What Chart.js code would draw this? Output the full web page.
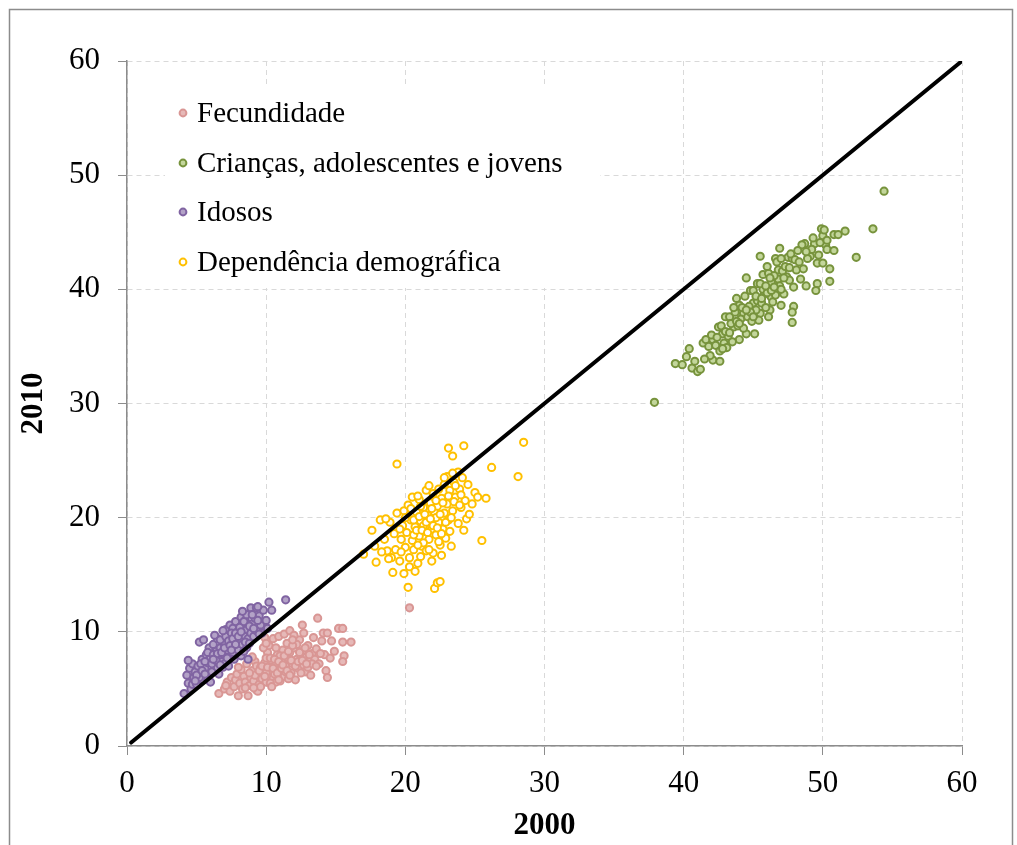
<!DOCTYPE html>
<html>
<head>
<meta charset="utf-8">
<script src="https://cdn.jsdelivr.net/npm/chart.js@4.4.0/dist/chart.umd.min.js"></script>
<style>
    html, body { margin: 0; padding: 0; background: #fff; }
    #wrap { width: 1017px; height: 845px; position: relative; }
</style>
</head>
<body>
<div id="wrap"><canvas id="chart" width="1017" height="845"></canvas></div>
<script>
// Axis ticks
const axisTicks = [0, 10, 20, 30, 40, 50, 60];

// Legend labels
const seriesNames = ['Fecundidade', 'Crianças, adolescentes e jovens', 'Idosos', 'Dependência demográfica'];

// [2000, 2010] pairs
const fecundidade = [
    [6.6,4.6],[7.0,5.0],[7.2,5.6],[7.4,4.8],[7.5,6.0],[7.1,5.3],
    [7.7,5.2],[7.8,5.8],[7.9,6.3],[8.0,4.4],[8.1,5.5],[8.2,6.7],[8.3,5.0],[8.4,6.1],[8.5,5.6],[8.0,6.9],[8.6,7.2],
    [8.7,4.4],[8.8,5.3],[8.9,6.0],[9.0,6.6],[9.1,5.7],[9.2,7.4],[9.3,4.9],[9.4,6.3],[9.5,5.4],[9.0,7.8],[9.3,7.0],[9.4,4.8],[9.6,6.9],
    [9.7,5.9],[9.8,6.5],[9.9,7.3],[10.0,5.6],[10.1,8.2],[10.2,6.1],[10.3,7.0],[10.4,6.6],[10.5,5.9],[10.0,7.7],[10.2,8.8],[10.4,7.5],[9.8,8.6],[10.5,9.4],[9.9,9.5],[10.0,9.0],
    [10.6,6.3],[10.7,7.1],[10.8,8.0],[10.9,6.7],[11.0,5.7],[11.1,7.5],[11.2,8.4],[11.3,6.1],[11.4,7.0],[11.5,9.0],[10.9,9.6],[11.3,9.8],[11.0,7.9],[11.4,6.5],[10.7,5.6],
    [11.6,7.7],[11.7,8.2],[11.8,6.4],[11.9,7.2],[12.0,8.6],[12.1,5.8],[12.2,7.6],[12.3,6.8],[12.4,9.3],[11.7,10.1],[12.0,9.7],[12.5,7.9],[11.6,5.9],[12.2,8.9],
    [12.6,8.3],[12.7,7.1],[12.8,6.5],[12.9,7.8],[13.0,8.8],[13.1,7.4],[13.2,6.2],[13.3,8.1],[13.4,9.5],[12.6,10.6],[12.7,9.9],[13.0,6.9],[13.5,7.6],
    [13.6,8.5],[13.7,11.2],[13.8,7.2],[14.0,9.2],[14.1,9.9],[14.3,6.6],[14.4,9.9],[14.4,6.0],[14.2,8.0],[14.7,9.2],[14.9,8.3],
    [15.2,10.3],[15.5,10.3],[15.5,9.1],[15.6,7.9],[15.5,7.4],[16.1,9.1],[14.6,7.7],[13.9,8.1],
    [9.2,6.2],[9.5,6.6],[9.7,7.0],[10.0,6.4],[10.1,6.9],[10.3,7.7],[10.5,6.8],[10.6,7.6],[10.8,6.4],[10.9,7.4],
    [11.1,6.8],[11.2,7.1],[11.3,7.9],[11.5,6.6],[11.6,8.3],[11.8,7.5],[11.9,8.8],[12.1,7.0],[12.3,7.4],[12.4,8.2],
    [12.6,7.5],[12.8,8.6],[13.1,8.0],[13.3,7.2],[9.6,5.2],[10.3,5.5],[10.9,5.8],[11.7,6.2],[12.5,6.4],[8.8,6.4],
    [9.1,5.1],[8.5,5.1],[10.7,8.6],[11.9,9.3],[13.6,7.0],[12.9,7.2],[10.4,5.2],[9.9,6.1],
    [20.3,12.1]
];

const criancas = [
    [37.9,30.1],[39.4,33.5],[39.9,33.4],[40.2,34.1],[40.4,34.8],[40.6,33.1],[40.8,33.7],[41.0,32.8],[41.2,33.0],
    [41.4,35.3],[41.6,35.6],[41.8,35.0],[42.1,35.6],[42.1,33.8],[42.6,33.7],[42.5,36.7],[42.7,36.8],[43.0,37.6],
    [42.8,36.1],[43.2,35.9],[43.3,37.6],[43.6,36.7],[43.8,39.2],[44.0,38.6],[44.0,35.6],[44.3,37.9],[44.5,41.0],
    [44.8,39.9],[44.5,36.1],[45.0,38.8],[45.1,36.1],[45.3,40.5],[45.5,42.9],[45.5,37.9],[45.7,41.3],[45.8,39.6],
    [46.1,41.4],[46.2,38.2],[46.3,39.3],[46.6,42.7],[46.7,42.4],[46.8,41.7],[46.9,43.6],[46.8,40.9],[46.7,39.9],
    [47.0,38.6],[47.5,42.8],[47.8,42.7],[47.4,41.1],[47.9,40.2],[47.9,38.5],[47.8,38.0],[47.8,37.1],[48.1,41.7],
    [48.6,41.8],[48.7,44.0],[48.5,43.9],[48.8,40.3],[49.1,42.9],[49.4,44.0],[49.6,42.3],[49.6,40.5],[49.5,39.9],
    [49.9,45.3],[50.0,44.7],[50.1,45.2],[50.2,43.9],[50.3,43.5],[50.0,42.3],[50.5,41.8],[50.5,40.7],[50.8,44.8],
    [51.1,44.8],[50.8,43.4],[51.6,45.1],[52.4,42.8],[53.6,45.3],[54.4,48.6],
    [43.0,36.3],[43.4,37.0],[43.7,38.0],[43.9,36.8],[44.1,37.4],[44.2,38.4],[44.4,39.4],[44.6,37.6],[44.7,38.5],
    [44.9,37.2],[45.0,39.9],[45.2,38.2],[45.3,39.0],[45.4,37.3],[45.6,38.8],[45.7,40.0],[45.9,38.4],[46.0,39.7],
    [46.1,37.6],[46.3,40.6],[46.4,38.9],[46.5,41.2],[46.6,39.5],[46.9,40.3],[47.1,41.6],[47.2,39.6],[47.3,42.0],
    [47.6,40.8],[47.7,43.1],[48.0,42.6],[48.2,43.4],[48.4,40.9],[48.9,42.7],[49.2,43.5],[49.8,44.1],[42.3,35.1],
    [42.6,34.6],[42.9,35.3],[43.1,34.9],[41.9,34.2],[41.5,33.9],[42.0,36.0],[43.5,35.4],[44.3,36.6],[44.8,38.0],
    [45.5,40.5],[46.2,41.0],[43.8,37.2],[42.4,35.8],[47.0,40.0],
    [44.0,37.0],[44.5,38.2],[45.0,37.6],[45.2,39.4],[45.6,39.2],[45.9,40.3],[46.3,39.9],[46.5,40.2],[47.2,41.0],
    [47.6,41.9],[48.3,42.4],[48.8,43.3],[49.3,44.5],[50.3,44.3],[43.3,36.2],[42.8,34.8],[43.6,38.4],[46.0,42.0],
    [47.0,42.7],[49.7,43.0]
];

const idosos = [
    [4.1,4.6],[4.3,6.2],[4.4,5.5],[4.5,6.8],[4.6,5.0],[4.7,7.2],[4.8,6.0],[4.9,6.5],[4.4,7.5],[4.7,5.4],
    [5.0,5.4],[5.1,7.0],[5.2,9.1],[5.3,6.3],[5.4,7.6],[5.5,9.3],[5.5,5.8],[5.6,6.8],[5.7,8.0],[5.8,7.3],[5.9,6.2],[5.9,8.6],[5.2,6.0],[5.8,5.8],
    [6.0,7.7],[6.1,6.5],[6.2,8.9],[6.3,7.1],[6.4,8.3],[6.5,6.9],[6.5,9.4],[6.6,7.8],[6.7,8.6],[6.8,7.4],[6.9,9.1],[6.0,5.6],[6.3,9.7],[6.6,6.3],[6.9,6.9],
    [7.0,8.0],[7.1,10.2],[7.1,7.3],[7.2,9.5],[7.3,8.5],[7.4,10.6],[7.4,7.9],[7.5,9.0],[7.6,8.2],[7.7,9.8],[7.7,7.6],[7.8,10.9],[7.9,8.7],[7.9,9.4],[7.2,8.4],[7.6,10.3],[7.0,9.1],[7.3,7.0],
    [8.0,10.1],[8.0,8.4],[8.1,9.3],[8.2,11.3],[8.3,8.9],[8.3,10.5],[8.4,9.7],[8.5,11.0],[8.6,8.6],[8.6,10.2],[8.7,9.4],[8.8,11.6],[8.9,12.1],[8.9,9.9],[8.2,7.9],[8.4,8.3],
    [9.0,10.7],[9.1,9.6],[9.2,11.2],[9.3,12.1],[9.3,10.1],[9.5,11.4],[9.6,10.6],[9.8,11.9],[9.7,9.9],[10.0,11.0],[10.2,12.6],[10.4,11.9],[10.1,10.3],[11.4,12.8],[8.7,7.6],
    [5.0,6.2],[5.3,7.2],[5.6,7.4],[5.8,8.2],[6.1,7.2],[6.2,8.0],[6.4,7.5],[6.5,8.1],[6.7,9.3],[6.8,8.2],
    [7.0,8.6],[7.1,9.6],[7.3,9.2],[7.4,8.8],[7.5,9.9],[7.6,9.4],[7.8,8.9],[7.8,9.9],[8.0,9.6],[8.1,10.4],
    [8.2,10.0],[8.4,10.9],[8.5,9.1],[8.6,11.5],[8.8,10.5],[9.0,11.5],[9.1,10.3],[9.4,11.0],[6.2,7.6],[6.7,7.1],
    [7.2,7.7],[5.4,6.6],[4.9,5.7],[5.6,6.3],[6.9,10.1],[8.3,11.8],[9.4,12.2],[7.5,8.4],[8.8,9.0],[9.5,9.8]
];

const dependencia = [
    [17.0,16.8],[17.9,16.1],[17.6,18.9],[17.8,17.5],[18.2,19.8],[18.5,18.1],[18.7,17.1],[18.9,19.6],[19.0,16.5],[19.1,15.2],
    [19.2,18.6],[19.4,20.4],[18.6,19.9],[19.3,17.2],[19.4,24.7],[18.3,17.0],[18.8,16.4],
    [19.6,16.2],[19.7,18.1],[19.8,19.3],[19.9,15.1],[19.9,20.6],[20.0,17.4],[20.1,18.7],[20.2,13.9],[20.2,21.1],[20.3,16.5],
    [20.4,19.8],[20.5,18.0],[19.7,17.0],[20.0,20.0],[20.5,21.8],[20.3,15.7],[19.6,19.0],
    [20.6,17.2],[20.7,19.2],[20.8,20.5],[20.9,16.0],[21.0,18.4],[21.0,21.6],[21.1,19.7],[21.2,17.5],[21.3,20.9],[21.4,18.8],
    [21.5,22.4],[20.7,15.3],[21.1,16.6],[21.3,19.3],[20.9,21.9],[21.5,17.1],[20.6,18.5],
    [21.6,20.2],[21.7,18.1],[21.8,21.3],[21.9,19.0],[22.0,16.9],[22.0,22.1],[22.1,13.8],[22.1,20.5],[22.2,18.5],[22.3,14.3],
    [22.3,21.0],[22.4,19.6],[22.5,14.4],[22.5,17.6],[21.7,22.8],[22.4,22.5],[21.9,16.2],[22.2,20.0],
    [22.6,21.7],[22.7,19.0],[22.8,20.4],[22.9,18.2],[23.0,23.6],[23.0,21.2],[23.1,26.1],[23.1,19.8],[23.2,22.4],[23.3,17.5],
    [23.4,25.4],[23.4,20.6],[23.5,23.1],[22.8,22.9],[23.2,18.8],[22.6,16.7],
    [23.6,21.8],[23.7,23.9],[23.8,19.5],[23.9,22.5],[24.0,20.9],[24.1,23.5],[24.2,26.3],[24.3,21.5],[24.4,19.9],[24.5,22.9],
    [24.6,20.3],[24.8,21.2],[25.0,22.2],[25.2,21.8],[25.5,18.0],[25.8,21.7],[26.2,24.4],[24.2,18.9],[23.8,24.0],
    [20.6,19.8],[20.8,18.9],[21.0,20.1],[21.2,18.9],[21.4,20.3],[21.5,19.6],[21.6,18.7],[21.8,19.9],[21.9,20.8],[22.0,19.3],
    [22.2,21.5],[22.3,19.1],[22.5,20.3],[22.6,18.6],[22.7,21.3],[22.9,19.6],[23.1,21.9],[23.3,20.0],[23.5,21.4],[21.3,17.8],
    [20.9,17.6],[21.7,17.2],[22.4,17.9],[23.6,22.8],[23.9,21.1],[20.4,20.8],[21.1,21.0],[22.8,23.5],[23.4,23.9],[24.0,22.0],
    [28.1,23.6],[28.5,26.6]
];

// Reference line y = x
const diagonal = [0.3, 60];

const seriesStyles = [
    { fill: '#e6b9b8', ring: '#d99694' },
    { fill: '#c3d69b', ring: '#77933c' },
    { fill: '#b3a2c7', ring: '#8064a2' },
    { fill: '#ffffff', ring: '#ffc000' }
];

const toPoints = arr => arr.map(p => ({ x: p[0], y: p[1] }));

function scatterSet(label, arr, style, order) {
    return {
        type: 'scatter',
        label: label,
        data: toPoints(arr),
        backgroundColor: style.fill,
        borderColor: style.ring,
        borderWidth: 2,
        pointRadius: 3.6,
        order: order
    };
}

// Frame and in-plot legend
const framePlugin = {
    id: 'frame',
    beforeDraw(chart) {
        const ctx = chart.ctx;
        ctx.save();
        ctx.fillStyle = '#fff';
        ctx.fillRect(0, 0, chart.width, chart.height);
        ctx.strokeStyle = '#8c8c8c';
        ctx.lineWidth = 1.5;
        ctx.strokeRect(9.5, 9.5, 1003, 900);
        ctx.restore();
    },
    beforeDatasetsDraw(chart) {
        const ctx = chart.ctx;
        ctx.save();
        ctx.fillStyle = '#fff';
        ctx.fillRect(165, 88, 435, 200);
        const rowY = [113, 163, 212, 262];
        ctx.font = '29px "Liberation Serif", "Times New Roman", serif';
        ctx.textBaseline = 'middle';
        seriesNames.forEach((name, i) => {
            ctx.beginPath();
            ctx.arc(183, rowY[i], 3.4, 0, Math.PI * 2);
            ctx.fillStyle = seriesStyles[i].fill;
            ctx.fill();
            ctx.lineWidth = 2;
            ctx.strokeStyle = seriesStyles[i].ring;
            ctx.stroke();
            ctx.fillStyle = '#000';
            ctx.fillText(name, 197, rowY[i] + 1);
        });
        ctx.restore();
    }
};

const tickFont = { family: '"Liberation Serif", "Times New Roman", serif', size: 31 };
const titleFont = { family: '"Liberation Serif", "Times New Roman", serif', size: 31, weight: 'bold' };

new Chart(document.getElementById('chart'), {
    data: {
        datasets: [
            {
                type: 'line',
                label: 'y = x',
                data: diagonal.map(v => ({ x: v, y: v })),
                borderColor: '#000',
                borderWidth: 4,
                borderCapStyle: 'round',
                pointRadius: 0,
                fill: false,
                order: 0
            },
            scatterSet(seriesNames[0], fecundidade, seriesStyles[0], 4),
            scatterSet(seriesNames[1], criancas, seriesStyles[1], 3),
            scatterSet(seriesNames[2], idosos, seriesStyles[2], 2),
            scatterSet(seriesNames[3], dependencia, seriesStyles[3], 1)
        ]
    },
    options: {
        responsive: false,
        animation: false,
        layout: { padding: { left: 0, top: 61, right: 55, bottom: 0 } },
        plugins: {
            legend: { display: false },
            tooltip: { enabled: false }
        },
        scales: {
            x: {
                type: 'linear',
                min: 0,
                max: 60,
                afterBuildTicks: s => { s.ticks = axisTicks.map(v => ({ value: v })); },
                afterFit: s => { s.height = 99; },
                ticks: { font: tickFont, color: '#000', padding: 10 },
                grid: { color: '#d9d9d9', tickColor: '#8c8c8c', tickLength: 9 },
                border: { color: '#8c8c8c', width: 1.5, dash: [5, 4] },
                title: { display: true, text: '2000', font: titleFont, color: '#000', padding: { top: 0, bottom: 0 } }
            },
            y: {
                type: 'linear',
                min: 0,
                max: 60,
                afterBuildTicks: s => { s.ticks = axisTicks.map(v => ({ value: v })); },
                afterFit: s => { s.width = 127; },
                ticks: { font: tickFont, color: '#000', padding: 18 },
                grid: { color: '#d9d9d9', tickColor: '#8c8c8c', tickLength: 9 },
                border: { color: '#8c8c8c', width: 1.5, dash: [5, 4] },
                title: { display: true, text: '2010', font: titleFont, color: '#000', padding: { top: 15, bottom: 0 } }
            }
        }
    },
    plugins: [framePlugin]
});
</script>
</body>
</html>
